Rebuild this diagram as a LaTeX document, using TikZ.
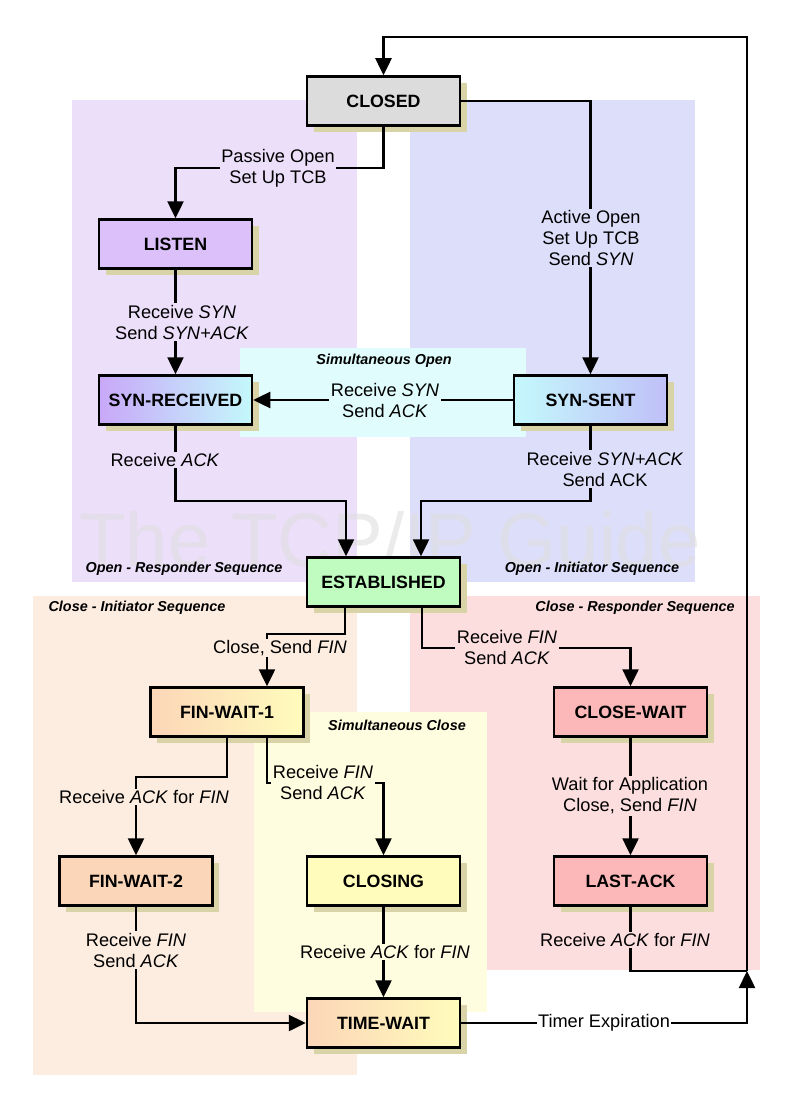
\documentclass[tikz,border=0pt]{standalone}
\usepackage{fontspec}
\setmainfont{Liberation Sans}
\usetikzlibrary{arrows.meta,shadows,calc}
\definecolor{purpleR}{RGB}{236,223,250}
\definecolor{blueR}{RGB}{221,222,250}
\definecolor{cyanR}{RGB}{224,252,252}
\definecolor{peachR}{RGB}{253,237,224}
\definecolor{pinkR}{RGB}{252,222,222}
\definecolor{yellowR}{RGB}{255,253,224}
\definecolor{shadowc}{RGB}{216,212,168}
\definecolor{grayF}{RGB}{220,220,220}
\definecolor{lavF}{RGB}{220,192,250}
\definecolor{purF}{RGB}{200,168,248}
\definecolor{cyaF}{RGB}{196,248,252}
\definecolor{bluF}{RGB}{192,192,248}
\definecolor{greF}{RGB}{192,252,192}
\definecolor{peaF}{RGB}{252,214,184}
\definecolor{yelF}{RGB}{255,252,188}
\definecolor{pinF}{RGB}{252,184,184}
\pgfdeclarelayer{fg}
\pgfsetlayers{main,fg}
\begin{document}
\begin{tikzpicture}[x=1pt,y=-1pt,
  state/.style={draw=black, line width=2.5pt, minimum width=153pt, minimum height=49pt, inner sep=0pt,
    font=\fontsize{17.8}{20}\selectfont\bfseries,
    drop shadow={shadow xshift=6.5pt, shadow yshift=-6.5pt, fill=shadowc, opacity=1, draw=none}},
  lbl/.style={font=\fontsize{18.2}{21}\selectfont, align=center, inner sep=1.5pt},
  hdr/.style={font=\fontsize{14.4}{17}\selectfont\bfseries\itshape, inner sep=0pt},
  conn/.style={line width=2.5pt},
  arr/.style={conn, -{Triangle[length=17pt,width=16pt]}}]
\useasboundingbox (0,0) rectangle (788,1094);
\fill[white] (0,0) rectangle (788,1094);
% regions
\fill[purpleR] (72,100) rectangle (357,582);
\fill[blueR] (410,100) rectangle (695,582);
\fill[cyanR] (240,348) rectangle (526,437);
\fill[peachR] (33,596) rectangle (357,1075);
\fill[pinkR] (410,596) rectangle (760,970);
\fill[yellowR] (254,712) rectangle (487,1012);
% watermark
\node[anchor=base, text=black!13, opacity=0.6, font=\fontsize{76}{76}\selectfont, inner sep=0pt] (wm) at (390,566) {The TCP/IP Guide};
% headers
\node[hdr] (h1) at (184,569) {Open - Responder Sequence};
\node[hdr] (h2) at (592,569) {Open - Initiator Sequence};
\node[hdr] (h3) at (137,608) {Close - Initiator Sequence};
\node[hdr] (h4) at (635,608) {Close - Responder Sequence};
\node[hdr] (h5) at (384,361) {Simultaneous Open};
\node[hdr] (h6) at (397,725) {Simultaneous Close};
% states
\node[state, fill=grayF] (CLOSED) at (383.5,101) {CLOSED};
\node[state, fill=lavF] (LISTEN) at (175.5,244) {LISTEN};
\node[state, left color=purF, right color=cyaF] (SYNR) at (175.5,400) {SYN-RECEIVED};
\node[state, left color=cyaF, right color=bluF] (SYNS) at (590.5,400) {SYN-SENT};
\node[state, fill=greF] (EST) at (383.5,582) {ESTABLISHED};
\node[state, left color=peaF, right color=yelF] (FW1) at (227,712) {FIN-WAIT-1};
\node[state, fill=peaF] (FW2) at (136,881) {FIN-WAIT-2};
\node[state, fill=yelF] (CLOSING) at (383.5,881) {CLOSING};
\node[state, fill=pinF] (CW) at (630.5,712) {CLOSE-WAIT};
\node[state, fill=pinF] (LA) at (630.5,881) {LAST-ACK};
\node[state, left color=peaF, right color=yelF] (TW) at (383.5,1023) {TIME-WAIT};
% labels
\begin{pgfonlayer}{fg}
\node[lbl, fill=purpleR] (passive) at (278,168) {Passive Open\\Set Up TCB};
\node[lbl, fill=blueR] (active) at (591,238) {Active Open\\Set Up TCB\\Send \textit{SYN}};
\node[lbl, fill=purpleR] (rsyn) at (182,322) {Receive \textit{SYN}\\Send \textit{SYN+ACK}};
\node[lbl, fill=cyanR] (simo) at (385,400) {Receive \textit{SYN}\\Send \textit{ACK}};
\node[lbl, fill=purpleR] (rack) at (165,460) {Receive \textit{ACK}};
\node[lbl, fill=blueR] (rsynack) at (605,469) {Receive \textit{SYN+ACK}\\Send ACK};
\node[lbl, fill=peachR] (closefin) at (280,648) {Close, Send \textit{FIN}};
\node[lbl, fill=pinkR] (rfinA) at (507,647) {Receive \textit{FIN}\\Send \textit{ACK}};
\node[lbl, fill=peachR] (rackfinA) at (144,797) {Receive \textit{ACK} for \textit{FIN}};
\node[lbl, fill=yellowR] (rfinB) at (323,782) {Receive \textit{FIN}\\Send \textit{ACK}};
\node[lbl, fill=pinkR] (wait) at (630,796) {Wait for Application\\Close, Send \textit{FIN}};
\node[lbl, fill=peachR] (rfinC) at (136,950) {Receive \textit{FIN}\\Send \textit{ACK}};
\node[lbl, fill=yellowR] (rackfinB) at (385,952) {Receive \textit{ACK} for \textit{FIN}};
\node[lbl, fill=pinkR] (rackfinC) at (625,940) {Receive \textit{ACK} for \textit{FIN}};
\node[lbl, fill=white] (timer) at (604,1023) {Timer Expiration};
\end{pgfonlayer}
% connectors
\coordinate (J) at (747,971);
\coordinate (T) at (747,37);
\draw[arr] (TW.east) -| (J);
\draw[conn] (LA.south) |- (J);
\draw[arr] (J) -- (T) -| (CLOSED.north);
\draw[arr] (CLOSED.south) |- (passive.center) -| (LISTEN.north);
\draw[arr] (CLOSED.east) -| (SYNS.north);
\draw[arr] (LISTEN.south) -- (SYNR.north);
\draw[arr] (SYNS.west) -- (SYNR.east);
\draw[arr] (SYNR.south) -- ++(0,75) -| ([xshift=-37.5pt]EST.north);
\draw[arr] (SYNS.south) -- ++(0,75) -| ([xshift=37.5pt]EST.north);
\draw[arr] ([xshift=-38.5pt]EST.south) -- ++(0,26) -| ([xshift=40pt]FW1.north);
\draw[arr] ([xshift=38.5pt]EST.south) -- ++(0,40) -| (CW.north);
\draw[arr] (FW1.south) -- ++(0,39) -| (FW2.north);
\draw[arr] ([xshift=40pt]FW1.south) -- ++(0,45) -| (CLOSING.north);
\draw[arr] (CW.south) -- (LA.north);
\draw[arr] (FW2.south) |- (TW.west);
\draw[arr] (CLOSING.south) -- (TW.north);
\end{tikzpicture}
\end{document}
